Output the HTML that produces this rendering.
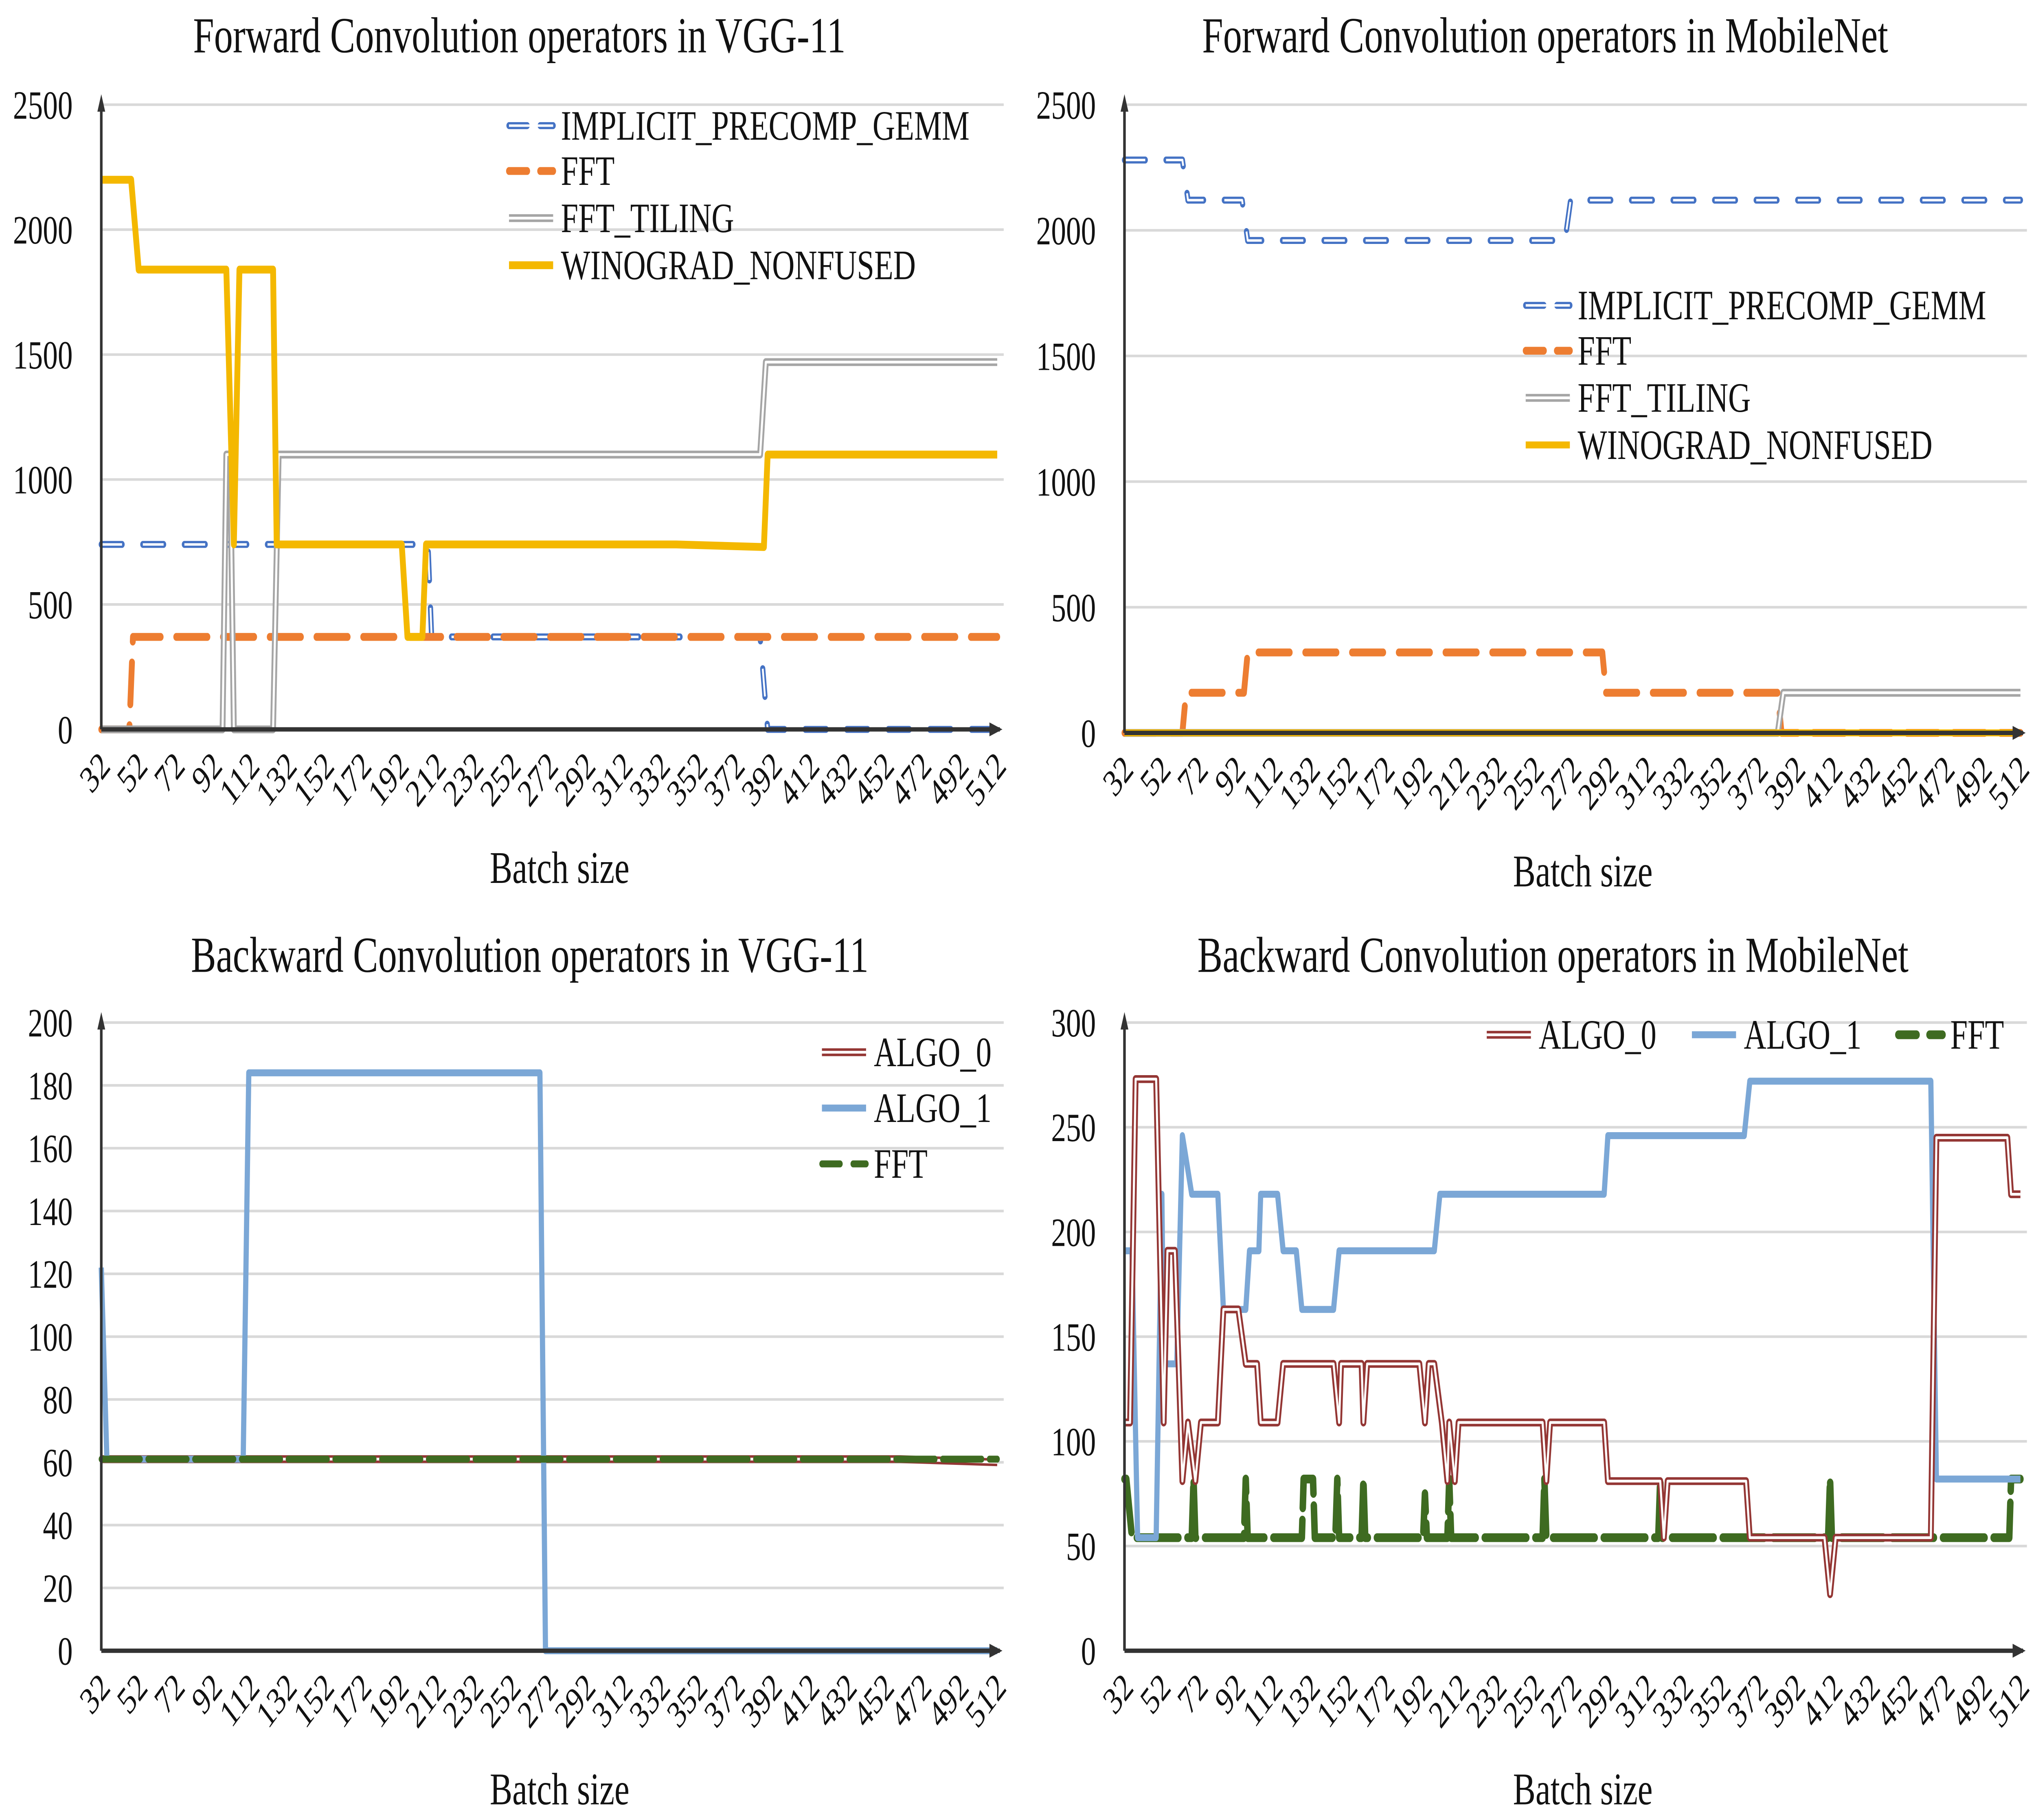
<!DOCTYPE html>
<html><head><meta charset="utf-8">
<style>
html,body{margin:0;padding:0;background:#fff;width:100%;height:100%;overflow:hidden;}
svg{display:block;position:absolute;left:0;top:0;width:100vw;height:100vh;}
text{font-family:"Liberation Serif",serif;fill:#111;}
</style></head>
<body>
<svg id="fig" viewBox="0 0 1568 1043" preserveAspectRatio="none" xmlns="http://www.w3.org/2000/svg">
<rect x="0" y="0" width="1568" height="1043" fill="#fff"/>
<g id="root"></g>
</svg>
<script>
// ---- shared category ticks ----
const xTickLabels = [32,52,72,92,112,132,152,172,192,212,232,252,272,292,312,332,352,372,392,412,432,452,472,492,512];

// ---- Chart A: Forward VGG-11 ----
const fvTicks = [0,500,1000,1500,2000,2500];
const fvImplicitB = [32,207,209,385,389,512];
const fvImplicitV = [740,740,370,370,0,0];
const fvFftB = [32,47,49,512];
const fvFftV = [0,0,370,370];
const fvTilingB = [32,97,99,101,103,124,127,385,388,512];
const fvTilingV = [0,0,1100,1100,0,0,1100,1100,1470,1470];
const fvWinoB = [32,48,52,99,103,106,124,126,193,196,204,206,340,387,389,512];
const fvWinoV = [2200,2200,1840,1840,740,1840,1840,740,740,370,370,740,740,730,1100,1100];

// ---- Chart B: Forward MobileNet ----
const fmTicks = [0,500,1000,1500,2000,2500];
const fmImplicitB = [32,63,66,95,98,268,271,512];
const fmImplicitV = [2280,2280,2120,2120,1960,1960,2120,2120];
const fmFftB = [32,63,65,96,98,288,290,382,384,512];
const fmFftV = [0,0,160,160,320,320,160,160,0,0];
const fmTilingB = [32,382,385,512];
const fmTilingV = [0,0,160,160];
const fmWinoB = [32,512];
const fmWinoV = [0,0];

// ---- Chart C: Backward VGG-11 ----
const bvTicks = [0,20,40,60,80,100,120,140,160,180,200];
const bvAlgo0B = [32,460,512];
const bvAlgo0V = [61,61,60];
const bvAlgo1B = [32,35,108,111,267,270,512];
const bvAlgo1V = [122,61,61,184,184,0,0];
const bvFftB = [32,512];
const bvFftV = [61,61];

// ---- Chart D: Backward MobileNet ----
const bmTicks = [0,50,100,150,200,250,300];
const bmAlgo0B = [32,35,38,49,53,55,59,63,66,70,73,82,85,93,97,103,105,114,117,144,147,148,159,160,162,190,193,195,198,202,205,206,209,211,256,258,260,289,291,319,321,323,365,367,407,410,413,464,467,505,507,512];
const bmAlgo0V = [109,109,273,273,109,191,191,81,109,81,109,109,163,163,137,137,109,109,137,137,109,137,137,109,137,137,109,137,137,109,81,109,81,109,109,81,109,109,81,81,54,81,81,54,54,27,54,54,245,245,218,218];
const bmAlgo1B = [32,36,39,49,52,53,60,63,68,82,85,97,99,104,105,114,117,124,127,144,147,198,201,289,291,364,367,464,467,512];
const bmAlgo1V = [191,191,54,54,218,137,137,246,218,218,163,163,191,191,218,218,191,191,163,163,191,191,218,218,246,246,272,272,82,82];
const bmFftB = [32,33,36,68,69,70,96,97,98,127,128,133,134,145,146,147,159,160,161,192,193,194,205,206,207,256,257,258,318,319,320,409,410,411,506,507,512];
const bmFftV = [82,82,54,54,82,54,54,82,54,54,82,82,54,54,82,54,54,82,54,54,75,54,54,82,54,54,82,54,54,82,54,54,82,54,54,82,82];

const root = document.getElementById('root');
const NS = 'http://www.w3.org/2000/svg';
function mk(tag, attrs, parent){
  const e = document.createElementNS(NS, tag);
  for (const k in attrs) e.setAttribute(k, attrs[k]);
  (parent||root).appendChild(e);
  return e;
}

function makeChart(cfg){
  const g = mk('g', {});
  
  
  const xs = b => cfg.x0 + (b - 32) * (cfg.x1 - cfg.x0) / 480;
  const ys = v => cfg.yBot - v * (cfg.yBot - cfg.yTop) / cfg.max;
  const t = mk('text', {x: cfg.tx, y: cfg.ty, 'font-size': 29, 'text-anchor': 'middle'}, g);
  t.textContent = cfg.title;
  
  
  cfg.ticks.forEach(v => {
    if (v > 0) {
      const gl = mk('line', {x1: cfg.x0, x2: cfg.x1 + 5, y1: ys(v), y2: ys(v), stroke: '#d9d9d9', 'stroke-width': 1.5}, g);
      
      
    }
    const yl = mk('text', {x: cfg.x0 - 22, y: ys(v) + 8, 'font-size': 23, 'text-anchor': 'end'}, g);
    yl.textContent = v;
    
    
  });
  xTickLabels.forEach(b => {
    const xx = xs(b) + 8, yy = cfg.yBot + 22;
    const xl = mk('text', {x: xx, y: yy, 'font-size': 22, 'text-anchor': 'end', transform: 'rotate(-45 ' + xx + ' ' + yy + ')'}, g);
    xl.textContent = b;
    
    
  });
  const at = mk('text', {x: (cfg.x0 + cfg.x1) / 2 + 8, y: cfg.yBot + 88, 'font-size': 26, 'text-anchor': 'middle'}, g);
  at.textContent = 'Batch size';
  
  
  cfg.series.forEach(s => {
    const pts = s.b.map((b, i) => xs(b).toFixed(1) + ',' + ys(s.v[i]).toFixed(1)).join(' ');
    const p = mk('polyline', {points: pts, fill: 'none', stroke: s.color, 'stroke-width': s.w, 'stroke-linejoin': 'round', 'stroke-linecap': s.dash ? 'round' : 'butt'}, g);
    if (s.dash) p.setAttribute('stroke-dasharray', s.dash);
    
    
    if (s.dbl) {
      const q = mk('polyline', {points: pts, fill: 'none', stroke: '#fff', 'stroke-width': s.w * 0.35, 'stroke-linejoin': 'round'}, g);
      if (s.dash) q.setAttribute('stroke-dasharray', s.dash);
      
      
    }
  });
  const ya = mk('line', {x1: cfg.x0, x2: cfg.x0, y1: cfg.yBot, y2: cfg.yTop - 2, stroke: '#333', 'stroke-width': 2}, g);
  
  
  const yh = mk('polygon', {points: (cfg.x0-3)+','+(cfg.yTop+4)+' '+(cfg.x0+3)+','+(cfg.yTop+4)+' '+cfg.x0+','+(cfg.yTop-6), fill: '#333'}, g);
  
  
  const xa = mk('line', {x1: cfg.x0, x2: cfg.x1 + 2, y1: cfg.yBot, y2: cfg.yBot, stroke: '#333', 'stroke-width': 2.5}, g);
  
  
  const xh = mk('polygon', {points: (cfg.x1-6)+','+(cfg.yBot-4)+' '+(cfg.x1-6)+','+(cfg.yBot+4)+' '+(cfg.x1+4)+','+cfg.yBot, fill: '#333'}, g);
  
  
  cfg.legend.forEach(l => {
    const s = cfg.series.find(q => q.id === l.id);
    const lg = mk('g', {}, g);
    
    
    const ln = mk('line', {x1: l.x, x2: l.x + 34, y1: l.y, y2: l.y, stroke: s.color, 'stroke-width': s.w}, lg);
    if (s.dash) { ln.setAttribute('stroke-dasharray', '14 10'); ln.setAttribute('stroke-linecap', 'round'); }
    
    
    if (s.dbl) {
      const ln2 = mk('line', {x1: l.x, x2: l.x + 34, y1: l.y, y2: l.y, stroke: '#fff', 'stroke-width': s.w * 0.35}, lg);
      
      
    }
    const lt = mk('text', {x: l.x + 40, y: l.y + 8, 'font-size': 24}, lg);
    lt.textContent = l.label;
    
    
  });
}

makeChart({name:'forward-vgg11-chart', title:'Forward Convolution operators  in VGG-11', tx:400, ty:30,
  x0:78, x1:768, yTop:60, yBot:418, max:2500, ticks:fvTicks,
  series:[
    {id:'implicit-precomp-gemm', b:fvImplicitB, v:fvImplicitV, color:'#4472c4', w:4, dash:'16 16', dbl:true},
    {id:'fft', b:fvFftB, v:fvFftV, color:'#ed7d31', w:4.5, dash:'24 12'},
    {id:'fft-tiling', b:fvTilingB, v:fvTilingV, color:'#a5a5a5', w:4.5, dbl:true},
    {id:'winograd-nonfused', b:fvWinoB, v:fvWinoV, color:'#f4b800', w:4.5}
  ],
  legend:[
    {id:'implicit-precomp-gemm', label:'IMPLICIT_PRECOMP_GEMM', x:392, y:72},
    {id:'fft', label:'FFT', x:392, y:98},
    {id:'fft-tiling', label:'FFT_TILING', x:392, y:125},
    {id:'winograd-nonfused', label:'WINOGRAD_NONFUSED', x:392, y:152}
  ]});

makeChart({name:'forward-mobilenet-chart', title:'Forward Convolution operators  in MobileNet', tx:1190, ty:30,
  x0:866, x1:1556, yTop:60, yBot:420, max:2500, ticks:fmTicks,
  series:[
    {id:'implicit-precomp-gemm', b:fmImplicitB, v:fmImplicitV, color:'#4472c4', w:4, dash:'16 16', dbl:true},
    {id:'fft', b:fmFftB, v:fmFftV, color:'#ed7d31', w:4.5, dash:'24 12'},
    {id:'fft-tiling', b:fmTilingB, v:fmTilingV, color:'#a5a5a5', w:4.5, dbl:true},
    {id:'winograd-nonfused', b:fmWinoB, v:fmWinoV, color:'#f4b800', w:4}
  ],
  legend:[
    {id:'implicit-precomp-gemm', label:'IMPLICIT_PRECOMP_GEMM', x:1175, y:175},
    {id:'fft', label:'FFT', x:1175, y:201},
    {id:'fft-tiling', label:'FFT_TILING', x:1175, y:228},
    {id:'winograd-nonfused', label:'WINOGRAD_NONFUSED', x:1175, y:255}
  ]});

makeChart({name:'backward-vgg11-chart', title:'Backward Convolution operators  in VGG-11', tx:408, ty:557,
  x0:78, x1:768, yTop:586, yBot:946, max:200, ticks:bvTicks,
  series:[
    {id:'algo-0', b:bvAlgo0B, v:bvAlgo0V, color:'#943634', w:4.5, dbl:true},
    {id:'algo-1', b:bvAlgo1B, v:bvAlgo1V, color:'#7ba7d6', w:4},
    {id:'fft', b:bvFftB, v:bvFftV, color:'#3e6b21', w:4, dash:'30 6'}
  ],
  legend:[
    {id:'algo-0', label:'ALGO_0', x:633, y:603},
    {id:'algo-1', label:'ALGO_1', x:633, y:635},
    {id:'fft', label:'FFT', x:633, y:667}
  ]});

makeChart({name:'backward-mobilenet-chart', title:'Backward Convolution operators  in MobileNet', tx:1196, ty:557,
  x0:866, x1:1556, yTop:586, yBot:946, max:300, ticks:bmTicks,
  series:[
    {id:'fft', b:bmFftB, v:bmFftV, color:'#3e6b21', w:5, dash:'32 7'},
    {id:'algo-1', b:bmAlgo1B, v:bmAlgo1V, color:'#7ba7d6', w:4},
    {id:'algo-0', b:bmAlgo0B, v:bmAlgo0V, color:'#943634', w:4.5, dbl:true}
  ],
  legend:[
    {id:'algo-0', label:'ALGO_0', x:1145, y:593},
    {id:'algo-1', label:'ALGO_1', x:1303, y:593},
    {id:'fft', label:'FFT', x:1462, y:593}
  ]});
</script>
</body></html>
